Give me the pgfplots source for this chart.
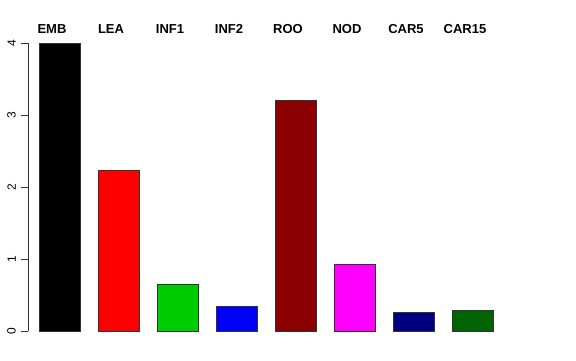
\documentclass[border=0pt]{standalone}
\usepackage{pgfplots}
\pgfplotsset{compat=1.18}
\usepackage{fontspec}
\setmainfont{Liberation Sans}
\definecolor{rgreen}{RGB}{0,205,0}
\definecolor{rdarkred}{RGB}{139,0,0}
\definecolor{rnavy}{RGB}{0,0,128}
\definecolor{rdarkgreen}{RGB}{0,100,0}
\definecolor{rmagenta}{RGB}{255,0,255}
\definecolor{rred}{RGB}{255,0,0}
\definecolor{rblue}{RGB}{0,0,255}
\begin{document}
\begin{tikzpicture}
\path[use as bounding box] (0,0) rectangle (576pt,360pt);
\begin{axis}[
  at={(28pt,29pt)}, anchor=south west,
  scale only axis, width=472pt, height=288pt,
  xmin=-0.534, xmax=7.466, ymin=0, ymax=4,
  axis x line=none,
  axis y line=left,
  y axis line style={-, line width=0.6pt, black!80},
  ytick={0,1,2,3,4},
  tick align=outside,
  major tick length=7pt,
  ytick style={line width=0.6pt, black!80},
  /pgf/number format/assume math mode=true,
  yticklabel style={rotate=90, anchor=south, font=\fontsize{12}{14}\selectfont, inner sep=0pt, yshift=5pt},
  clip=false,
  every axis plot/.append style={ybar, bar width=0.695, draw=black!80, line width=0.6pt},
]
\addplot[fill=black] coordinates {(0,4.0)};
\addplot[fill=rred] coordinates {(1,2.23)};
\addplot[fill=rgreen] coordinates {(2,0.65)};
\addplot[fill=rblue] coordinates {(3,0.35)};
\addplot[fill=rdarkred] coordinates {(4,3.20)};
\addplot[fill=rmagenta] coordinates {(5,0.93)};
\addplot[fill=rnavy] coordinates {(6,0.26)};
\addplot[fill=rdarkgreen] coordinates {(7,0.29)};
\begin{scope}[every node/.style={font=\fontsize{13}{15}\selectfont\bfseries, anchor=base, inner sep=0pt}]
\node at (axis cs:-0.127,4) [yshift=10pt] {EMB};
\node at (axis cs:0.873,4) [yshift=10pt] {LEA};
\node at (axis cs:1.873,4) [yshift=10pt] {INF1};
\node at (axis cs:2.873,4) [yshift=10pt] {INF2};
\node at (axis cs:3.873,4) [yshift=10pt] {ROO};
\node at (axis cs:4.873,4) [yshift=10pt] {NOD};
\node at (axis cs:5.873,4) [yshift=10pt] {CAR5};
\node at (axis cs:6.873,4) [yshift=10pt] {CAR15};
\end{scope}
\end{axis}
\end{tikzpicture}
\end{document}
